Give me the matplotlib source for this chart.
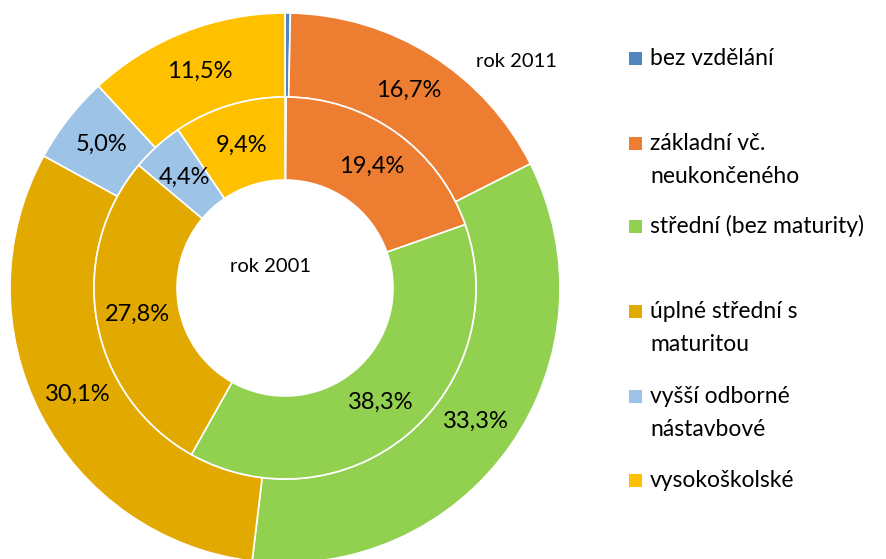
import matplotlib
matplotlib.use("Agg")
import matplotlib.pyplot as plt
from matplotlib.patches import Rectangle
import numpy as np

categories = ["bez vzdělání", "základní vč.\nneukončeného", "střední (bez maturity)",
              "úplné střední s\nmaturitou", "vyšší odborné\nnástavbové", "vysokoškolské"]
values_2001 = [0.1, 19.4, 38.3, 27.8, 4.4, 9.4]
values_2011 = [0.3, 16.7, 33.3, 30.1, 5.0, 11.5]
labels_2001 = ["", "19,4%", "38,3%", "27,8%", "4,4%", "9,4%"]
labels_2011 = ["", "16,7%", "33,3%", "30,1%", "5,0%", "11,5%"]
colors = ["#4F86C0", "#ED7D31", "#92D050", "#E2AA00", "#9DC3E6", "#FFC000"]

plt.rcParams['font.family'] = ['Lato', 'DejaVu Sans']

W, H = 886, 559
fig = plt.figure(figsize=(W / 100, H / 100), dpi=100)
cx, cy, R = 285, 288, 275
ax = fig.add_axes([(cx - R) / W, (H - cy - R) / H, 2 * R / W, 2 * R / H])
ax.set_axis_off()

r_outer = 1.0
r_mid = 191 / R
r_hole = 108 / R

def ring(values, labels, radius, width):
    wedges, _ = ax.pie(values, radius=radius, colors=colors, startangle=90,
                       counterclock=False,
                       wedgeprops=dict(width=width, edgecolor="white", linewidth=1.2))
    rm = radius - width / 2
    for w, lab in zip(wedges, labels):
        if not lab:
            continue
        th = np.deg2rad((w.theta1 + w.theta2) / 2)
        ax.text(rm * np.cos(th), rm * np.sin(th), lab, ha="center", va="center",
                fontsize=17, color="black")

ring(values_2011, labels_2011, r_outer, r_outer - r_mid)
ring(values_2001, labels_2001, r_mid, r_mid - r_hole)
ax.set_xlim(-1, 1)
ax.set_ylim(-1, 1)
ax.set_aspect("equal")

fig.text(516 / W, 1 - 67 / H, "rok 2011", ha="center", va="baseline", fontsize=14.5)
fig.text(271 / W, 1 - 272 / H, "rok 2001", ha="center", va="baseline", fontsize=14.5)

legend_baselines = [65, 150, 233, 318, 403, 487]
line_step = 33
for cat, col, yb in zip(categories, colors, legend_baselines):
    fig.patches.append(Rectangle((629 / W, 1 - yb / H), 13 / W, 13 / H,
                                 transform=fig.transFigure, facecolor=col,
                                 edgecolor="none"))
    for i, line in enumerate(cat.split("\n")):
        fig.text(650 / W, 1 - (yb + i * line_step) / H, line, ha="left",
                 va="baseline", fontsize=16.5)

fig.savefig("out.png", dpi=100)
